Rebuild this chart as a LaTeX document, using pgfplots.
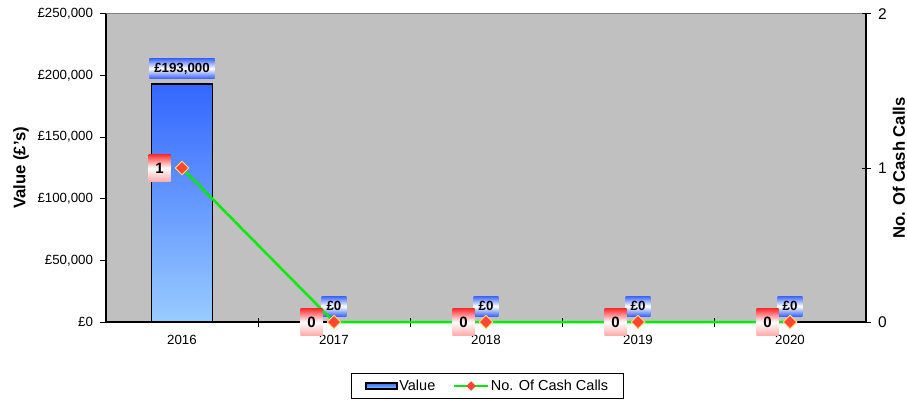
\documentclass[border=0pt]{standalone}
\usepackage{pgfplots}
\pgfplotsset{compat=1.18}
\usepackage{fontspec}
\setmainfont{Liberation Sans}
\definecolor{plotgray}{RGB}{192,192,192}
\definecolor{bordergray}{RGB}{128,128,128}
\definecolor{barTop}{RGB}{51,102,255}
\definecolor{barBot}{RGB}{153,204,255}
\definecolor{lblBlue}{RGB}{60,100,255}
\definecolor{lblRed}{RGB}{255,45,45}
\definecolor{lblPink}{RGB}{255,170,170}
\definecolor{lineGreen}{RGB}{0,235,0}
\definecolor{mkRed}{RGB}{255,70,50}
\definecolor{mkYellow}{RGB}{255,220,130}
\newcommand\fs[1]{\fontsize{#1}{#1}\selectfont}
\begin{document}
\begin{tikzpicture}
\useasboundingbox (-106bp,-80bp) rectangle (801bp,322bp);
\begin{axis}[
  at={(0,0)}, anchor=south west,
  width=760bp, height=308bp, scale only axis,
  xmin=-0.5, xmax=4.5, ymin=0, ymax=250000,
  scaled y ticks=false,
  axis x line*=bottom, axis y line*=left,
  axis line style={black, line width=1.2bp},
  axis background/.style={fill=plotgray, draw=bordergray, line width=1bp},
  xtick={0,1,2,3,4},
  xticklabels={2016,2017,2018,2019,2020},
  xtick style={draw=none},
  ytick={0,50000,100000,150000,200000,250000},
  yticklabels={{£0},{£50,000},{£100,000},{£150,000},{£200,000},{£250,000}},
  tick align=outside, major tick length=6bp,
  ytick style={black, line width=1bp},
  tick label style={font=\fs{13.3bp}},
  xticklabel style={yshift=-4bp},
  yticklabel style={xshift=-3.5bp},
  ylabel={\bfseries Value (£'s)},
  every axis y label/.style={at={(axis description cs:0,0.5)}, xshift=-85bp, rotate=90, anchor=center, font=\fs{16.7bp}},
  clip=false,
]
\addplot[ybar, bar width=61bp, draw=black, line width=1.6bp, top color=barTop, bottom color=barBot,
  nodes near coords={£\pgfmathprintnumber[fixed,precision=0,1000 sep={,},assume math mode=true]{\pgfplotspointmeta}},
  every node near coord/.append style={anchor=south, yshift=5bp, font=\fs{13.3bp}\bfseries, top color=lblBlue, bottom color=lblBlue, middle color=white, draw=none, text=black, inner xsep=5bp, inner ysep=0pt, minimum height=20bp}
] coordinates {(0,193000) (1,0) (2,0) (3,0) (4,0)};
\end{axis}
\begin{axis}[
  at={(0,0)}, anchor=south west,
  width=760bp, height=308bp, scale only axis,
  xmin=-0.5, xmax=4.5, ymin=0, ymax=2,
  axis x line*=bottom, axis y line*=right,
  axis line style={black, line width=1.2bp},
  xtick={0.5,1.5,2.5,3.5}, xticklabels={},
  ytick={0,1,2}, yticklabels={0,1,2},
  tick align=center, major tick length=9bp,
  tick style={black, line width=1bp},
  yticklabel style={font=\fs{15.5bp}, xshift=4bp},
  ylabel={\bfseries No. Of Cash Calls},
  every axis y label/.style={at={(axis description cs:1,0.5)}, xshift=33bp, rotate=90, anchor=center, font=\fs{16.7bp}},
  clip=false,
  legend style={at={(axis description cs:0.502,-0.166)}, anchor=north, draw=black, line width=0.8bp,
    legend columns=2, font=\fs{14.5bp}, inner xsep=14bp, inner ysep=5bp,
    /tikz/every even column/.append style={column sep=16bp},
    nodes={inner sep=1.5bp}},
]
\addlegendimage{legend image code/.code={\draw[draw=black, line width=1.5bp, top color=barTop, bottom color=barBot] (0bp,-3bp) rectangle (31bp,3bp);}}
\addlegendentry{Value}
\addplot[lineGreen, line width=2.5bp, mark=square*, mark size=4.8bp,
  mark options={rotate=45, fill=mkRed, draw=mkYellow, line width=1bp},
  nodes near coords={\pgfmathprintnumber[assume math mode=true]{\pgfplotspointmeta}},
  every node near coord/.append style={anchor=east, xshift=-11bp, font=\fs{15bp}\bfseries, top color=lblRed, bottom color=lblPink, middle color=white, text=black, minimum width=22bp, minimum height=27bp, inner sep=0pt},
  legend image code/.code={\draw[lineGreen, line width=2.5bp] (0bp,0bp) -- (34bp,0bp); \fill[mkRed] (17bp,-3bp) -- (20bp,0bp) -- (17bp,3bp) -- (14bp,0bp) -- cycle;}
] coordinates {(0,1) (1,0) (2,0) (3,0) (4,0)};
\addlegendentry{No. Of Cash Calls}
\end{axis}
\end{tikzpicture}
\end{document}
